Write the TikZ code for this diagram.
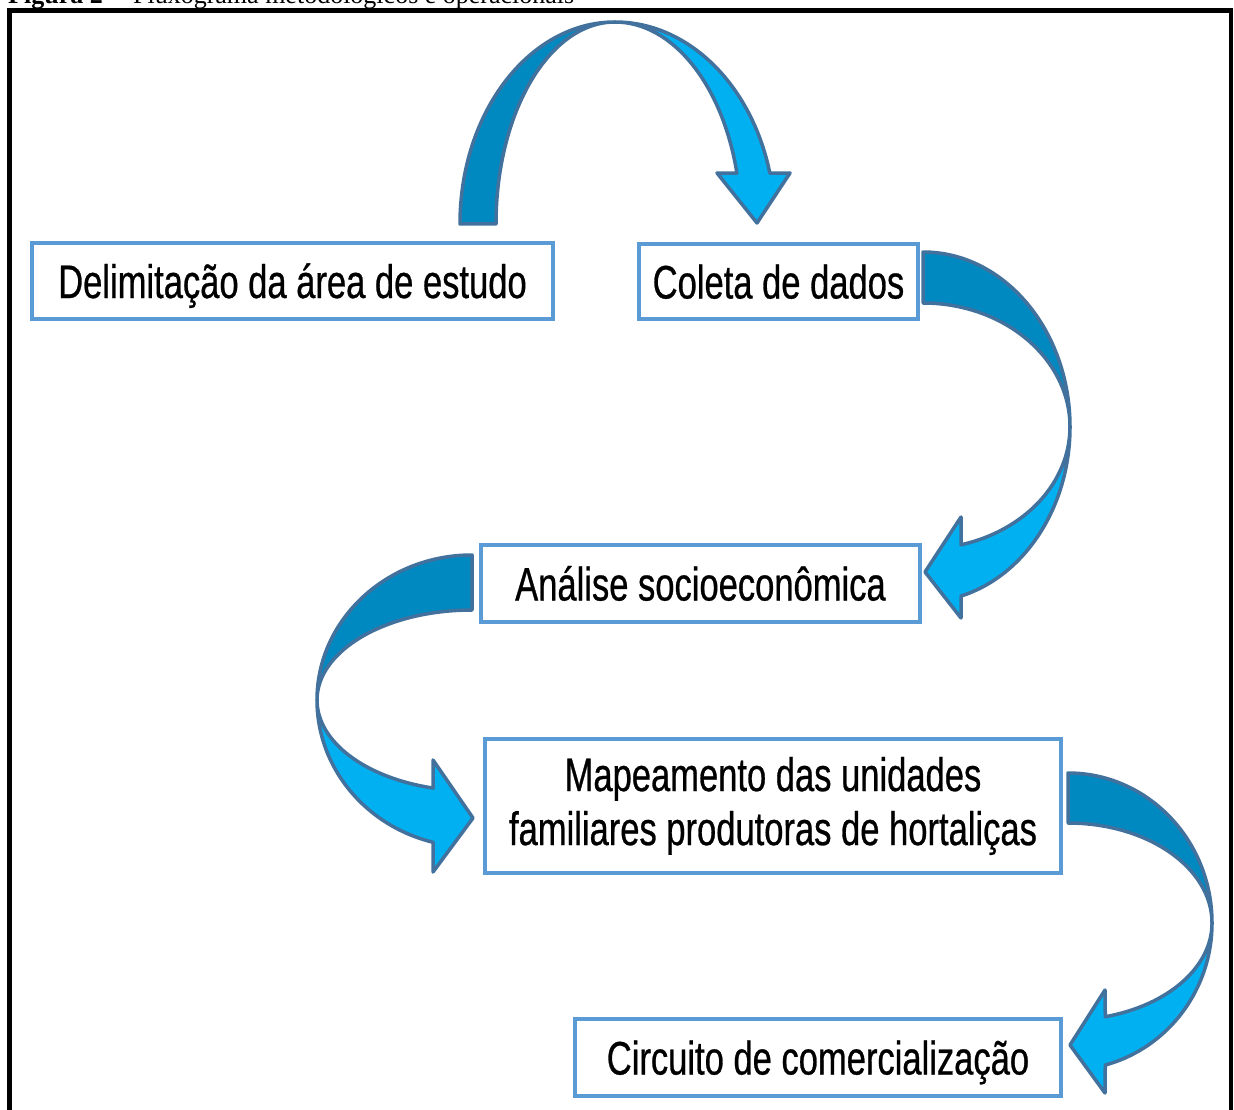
\documentclass[tikz,border=0pt]{standalone}
\usepackage{fontspec}
\newfontfamily\boxfont{Liberation Sans}[FakeStretch=0.735, FakeBold=0.6]
\newfontfamily\capfont{Liberation Serif}
\definecolor{boxline}{HTML}{5B9BD5}
\definecolor{arrowline}{HTML}{41719C}
\definecolor{arrowback}{HTML}{0089C1}
\definecolor{arrowfront}{HTML}{00B0F0}
\begin{document}
\begin{tikzpicture}[x=1pt, y=1pt, yscale=-1,
    box/.style={draw=boxline, line width=4pt, fill=white, inner sep=0pt,
      font=\boxfont\fontsize{47}{54}\selectfont},
    oneline/.style={box, text height=34pt, text depth=0pt},
    back/.style={fill=arrowback, draw=arrowline, line width=3.5pt, line join=round},
    front/.style={fill=arrowfront, draw=arrowline, line width=3.5pt, line join=round}]
  \useasboundingbox (0,0) rectangle (1234,1110);
  \clip (0,0) rectangle (1234,1110);
  \node[anchor=base west, inner sep=0pt, font=\capfont\fontsize{26}{30}\selectfont]
    (caption) at (8,4) {\textbf{Figura 2} -- Fluxograma metodológicos e operacionais};
  \draw[line width=4.5pt] (9.5,1125) -- (9.5,10.5) -- (1231,10.5) -- (1231,1125);

  \path[back] (460,224) arc[start angle=180, end angle=270, x radius=155, y radius=202]
    arc[start angle=270, end angle=180, x radius=119, y radius=202] -- cycle;
  \path[front] (615,22) arc[start angle=270, end angle=345.4, x radius=160, y radius=202]
    -- (790,173) -- (757,223) -- (717,173) -- (736.9,173.1)
    arc[start angle=345.4, end angle=270, x radius=126, y radius=202] -- cycle;

  \path[back] (923,252) arc[start angle=-90, end angle=0, x radius=147, y radius=175]
    arc[start angle=0, end angle=-90, x radius=147, y radius=124] -- cycle;
  \path[front] (1070,427) arc[start angle=0, end angle=75, x radius=147, y radius=175]
    -- (961,618) -- (925,572) -- (961,517) -- (961,544.8)
    arc[start angle=75, end angle=0, x radius=147, y radius=122] -- cycle;

  \path[back] (472,555) arc[start angle=270, end angle=180, x radius=155, y radius=145]
    arc[start angle=180, end angle=270, x radius=155, y radius=90] -- cycle;
  \path[front] (317,700) arc[start angle=180, end angle=104.5, x radius=155, y radius=147]
    -- (433,872) -- (473,818) -- (433,760) -- (433.2,788.1)
    arc[start angle=104.5, end angle=180, x radius=155, y radius=91] -- cycle;

  \path[back] (1068,773) arc[start angle=-90, end angle=0, x radius=144, y radius=150]
    arc[start angle=0, end angle=-90, x radius=144, y radius=100] -- cycle;
  \path[front] (1212,923) arc[start angle=0, end angle=75, x radius=144, y radius=147]
    -- (1105,1093) -- (1070,1045) -- (1105,990) -- (1105.3,1016.7)
    arc[start angle=75, end angle=0, x radius=144, y radius=97] -- cycle;

  \node[oneline, minimum width=521pt, minimum height=76pt] (delim) at (292.5,281) {Delimitação da área de estudo};
  \node[oneline, minimum width=279pt, minimum height=75pt] (coleta) at (778.5,281.5) {Coleta de dados};
  \node[oneline, minimum width=439pt, minimum height=77pt] (analise) at (700.5,583.5) {Análise socioeconômica};
  \node[box, minimum width=576pt, minimum height=134pt, align=center] (mapa) at (773,806)
    {Mapeamento das unidades\\familiares produtoras de hortaliças};
  \node[oneline, minimum width=486pt, minimum height=77pt] (circuito) at (818,1057.5) {Circuito de comercialização};
\end{tikzpicture}
\end{document}
